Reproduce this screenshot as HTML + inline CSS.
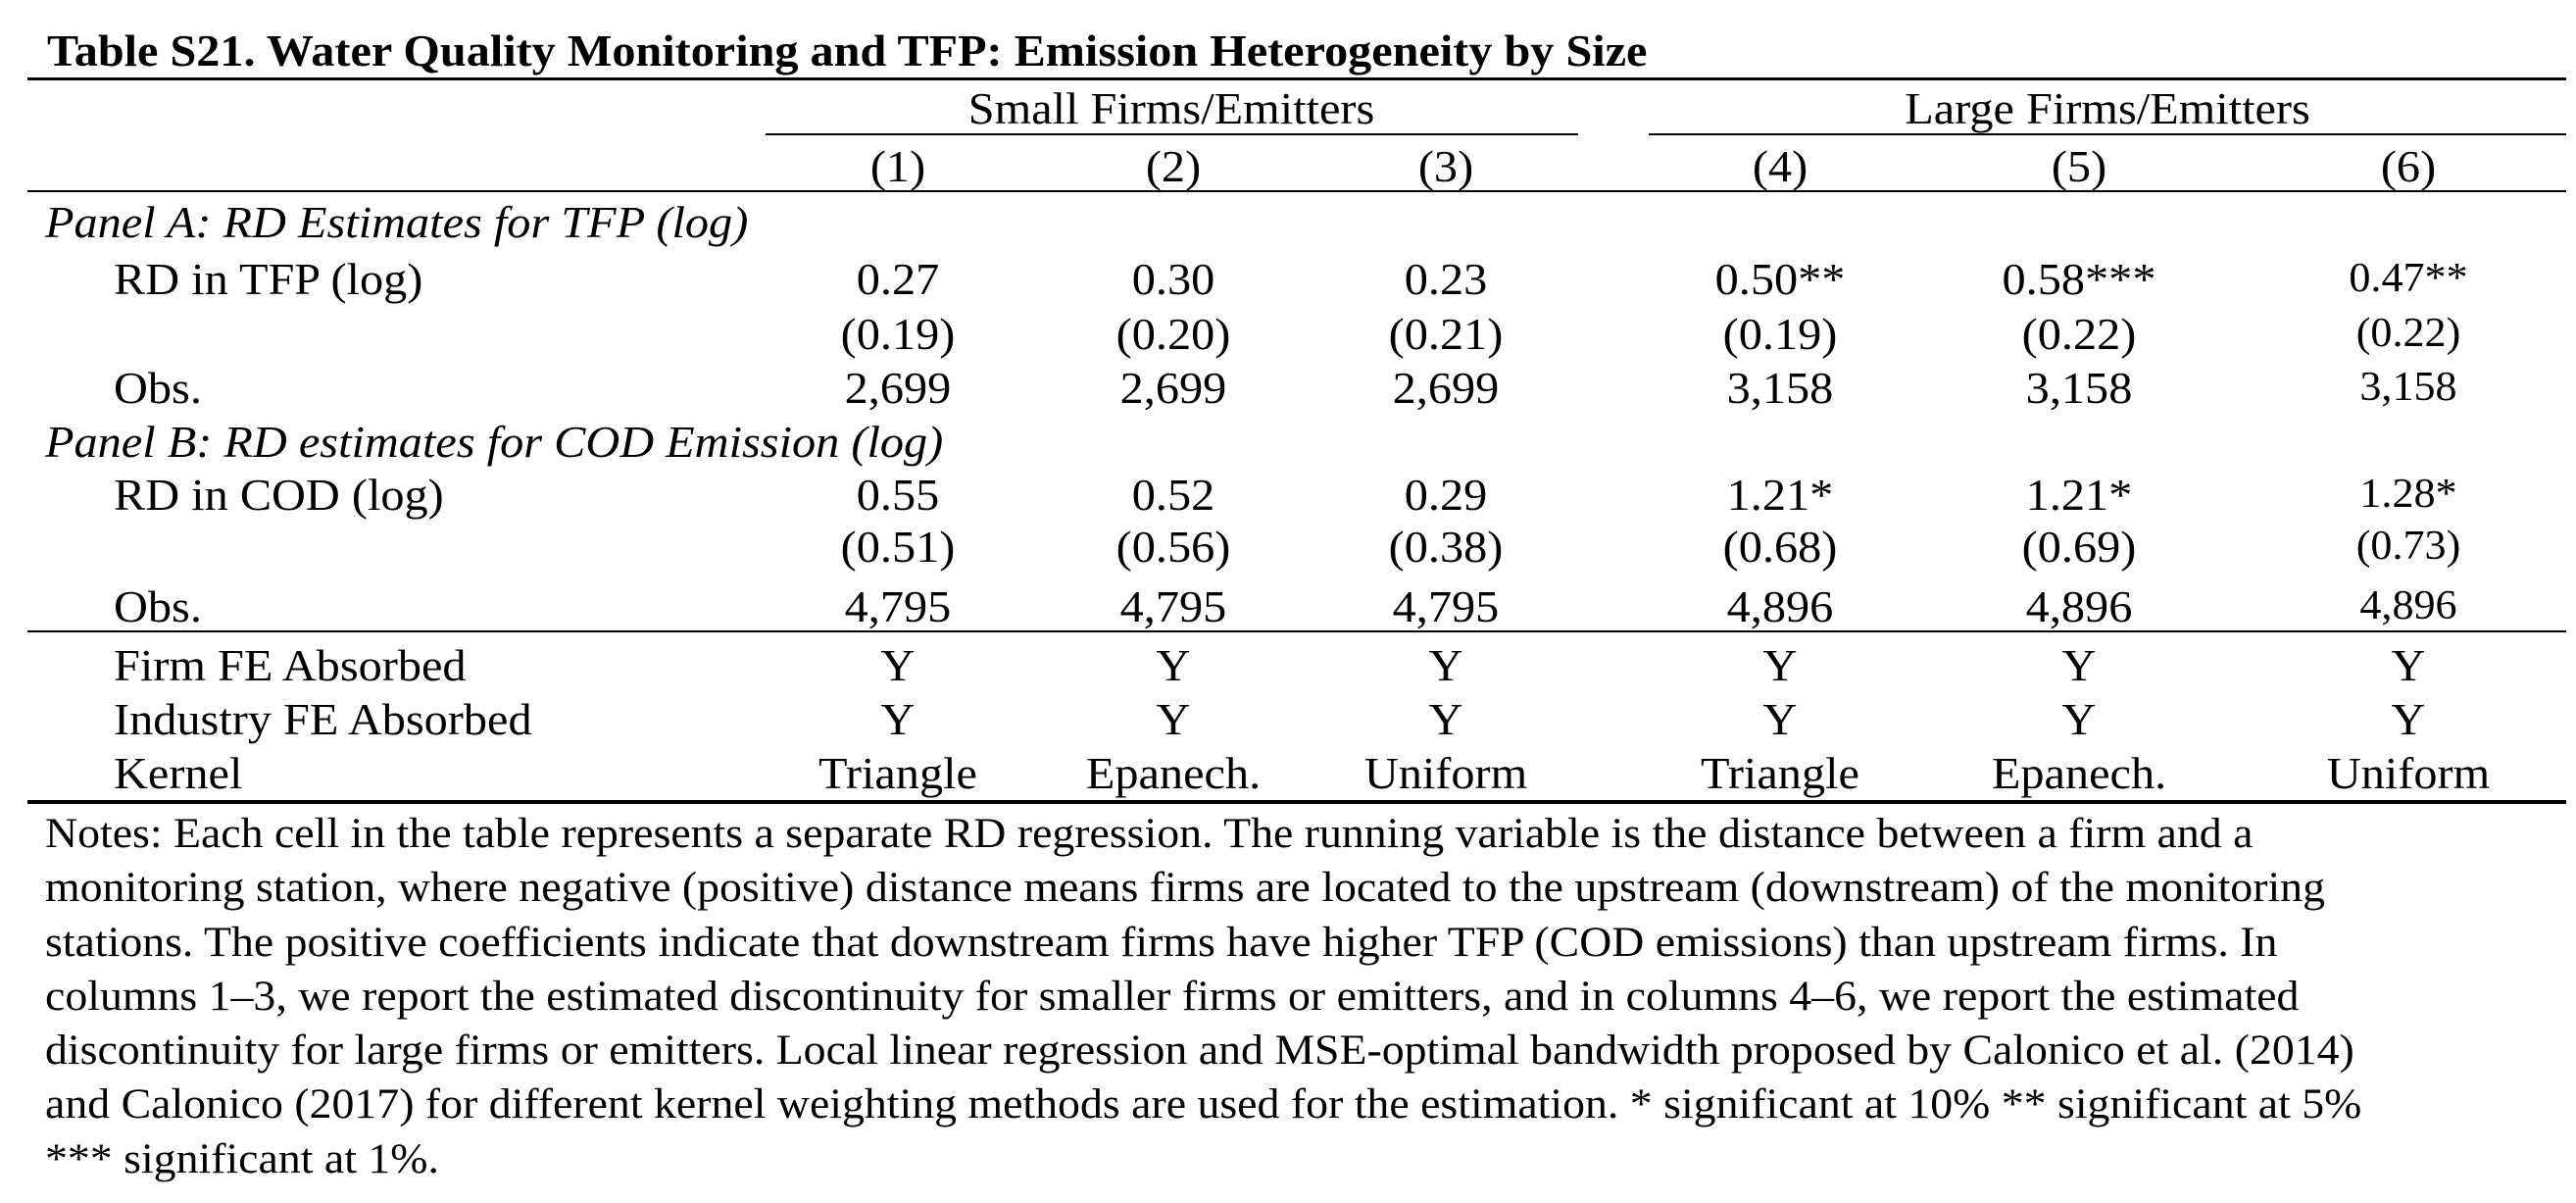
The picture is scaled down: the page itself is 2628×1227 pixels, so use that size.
<!DOCTYPE html>
<html><head><meta charset="utf-8">
<style>
html,body{margin:0;padding:0;background:#fff;}
#page{position:relative;width:2628px;height:1227px;overflow:hidden;background:#fff;font-family:"Liberation Serif","DejaVu Serif",serif;color:#000;}
.t{position:absolute;line-height:1;white-space:nowrap;transform-origin:0 0;}
.r{position:absolute;background:#000;}
</style></head><body>
<div id="page"></div>
<script>
var colX = [916, 1197, 1475, 1816, 2121, 2457];
var colLabels = ["(1)","(2)","(3)","(4)","(5)","(6)"];
var tfpCoef = ["0.27","0.30","0.23","0.50**","0.58***","0.47**"];
var tfpSE = ["(0.19)","(0.20)","(0.21)","(0.19)","(0.22)","(0.22)"];
var tfpObs = ["2,699","2,699","2,699","3,158","3,158","3,158"];
var codCoef = ["0.55","0.52","0.29","1.21*","1.21*","1.28*"];
var codSE = ["(0.51)","(0.56)","(0.38)","(0.68)","(0.69)","(0.73)"];
var codObs = ["4,795","4,795","4,795","4,896","4,896","4,896"];
var firmFE = ["Y","Y","Y","Y","Y","Y"];
var indFE = ["Y","Y","Y","Y","Y","Y"];
var kernels = ["Triangle","Epanech.","Uniform","Triangle","Epanech.","Uniform"];
var notes = [
"Notes: Each cell in the table represents a separate RD regression. The running variable is the distance between a firm and a",
"monitoring station, where negative (positive) distance means firms are located to the upstream (downstream) of the monitoring",
"stations. The positive coefficients indicate that downstream firms have higher TFP (COD emissions) than upstream firms. In",
"columns 1\u20133, we report the estimated discontinuity for smaller firms or emitters, and in columns 4\u20136, we report the estimated",
"discontinuity for large firms or emitters. Local linear regression and MSE-optimal bandwidth proposed by Calonico et al. (2014)",
"and Calonico (2017) for different kernel weighting methods are used for the estimation. * significant at 10% ** significant at 5%",
"*** significant at 1%."
];
var page = document.getElementById('page');
function txt(s, x, base, fs, name, opts){
  opts = opts || {};
  var sx = opts.sx || 1;
  var d = document.createElement('div');
  d.className = 't';
  d.textContent = s;
  d.style.fontSize = fs + 'px';
  d.style.top = (base - 0.8375*fs) + 'px';
  d.style.left = x + 'px';
  if (opts.bold) d.style.fontWeight = 'bold';
  if (opts.italic) d.style.fontStyle = 'italic';
  if (opts.center) d.style.transform = 'scaleX(' + sx + ') translateX(-50%)';
  else d.style.transform = 'scaleX(' + sx + ')';
  
  
  page.appendChild(d);
  return d;
}
function rule(x1, x2, y, h, name){
  var d = document.createElement('div');
  d.className = 'r';
  d.style.left = x1 + 'px'; d.style.width = (x2-x1) + 'px';
  d.style.top = y + 'px'; d.style.height = h + 'px';
  
  
  page.appendChild(d);
}
var FS = 46, SX = 1.05;
txt("Table S21. Water Quality Monitoring and TFP: Emission Heterogeneity by Size", 48, 68, 46, 'table-title', {bold:true, sx:1.048});
rule(28, 2618, 79, 3, 'top-rule');
txt("Small Firms/Emitters", 1195, 127, FS, 'small-firms-header', {center:true, sx:SX});
txt("Large Firms/Emitters", 2150, 127, FS, 'large-firms-header', {center:true, sx:SX});
rule(781, 1610, 136, 2, 'small-firms-underline');
rule(1682, 2618, 136, 2, 'large-firms-underline');
rule(28, 2618, 194, 2, 'header-rule');
rule(28, 2618, 643, 2, 'mid-rule');
rule(28, 2618, 816, 4, 'bottom-rule');
txt("Panel A: RD Estimates for TFP (log)", 46, 243, FS, 'panel-a-title', {italic:true, sx:SX});
txt("Panel B: RD estimates for COD Emission (log)", 46, 467, FS, 'panel-b-title', {italic:true, sx:SX});
var rowLabels = [["RD in TFP (log)",301,'row-label-rd-tfp'],["Obs.",412,'row-label-obs-tfp'],["RD in COD (log)",521,'row-label-rd-cod'],["Obs.",635,'row-label-obs-cod'],["Firm FE Absorbed",695,'row-label-firm-fe'],["Industry FE Absorbed",750,'row-label-industry-fe'],["Kernel",805,'row-label-kernel']];
rowLabels.forEach(function(r){ txt(r[0], 116, r[1], FS, r[2], {sx:SX}); });
var rows = [[colLabels,186,'column-number'],[tfpCoef,301,'tfp-coef'],[tfpSE,357,'tfp-se'],[tfpObs,412,'tfp-obs'],[codCoef,521,'cod-coef'],[codSE,574,'cod-se'],[codObs,635,'cod-obs'],[firmFE,695,'firm-fe'],[indFE,750,'industry-fe'],[kernels,805,'kernel']];
rows.forEach(function(r){
  r[0].forEach(function(v,i){
    var small = (i===5 && r[1]>190 && r[1]<640);
    var fs = small ? 42 : FS;
    var base = small ? r[1]-3 : r[1];
    txt(v, colX[i], base, fs, r[2]+'-col'+(i+1), {center:true, sx:SX});
  });
});
notes.forEach(function(s,i){
  txt(s, 46, 865 + i*55.3, 43, 'notes-line-'+(i+1), {sx:1.065});
});
</script>
</body></html>
